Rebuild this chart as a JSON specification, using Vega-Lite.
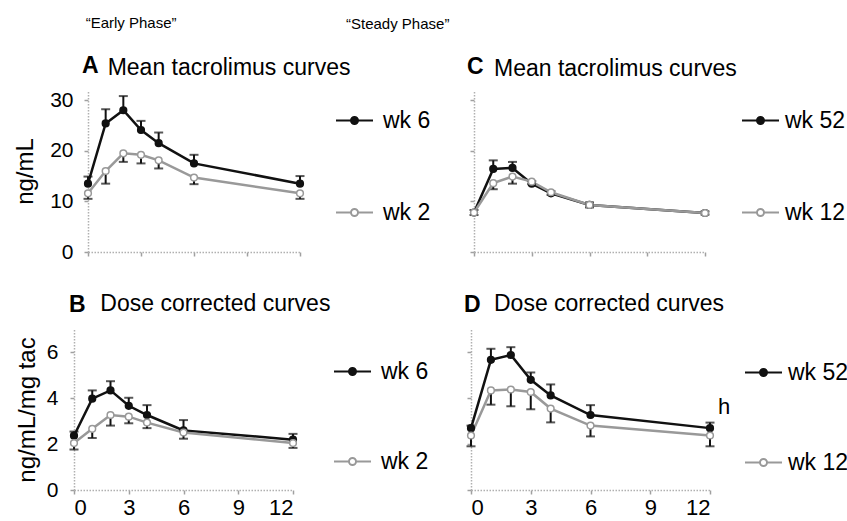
{
  "$schema": "https://vega.github.io/schema/vega-lite/v6.json",
  "padding": {"left": 13, "top": 16, "right": 0, "bottom": 0},
  "background": "white",
  "config": {
    "font": "Liberation Sans",
    "view": {"stroke": null},
    "axis": {
      "grid": false,
      "domainColor": "#b0b0b0",
      "domainDash": [1.5, 1.5],
      "domainWidth": 1.5,
      "tickColor": "#a0a0a0",
      "tickSize": 4,
      "tickWidth": 1.5,
      "labelFont": "Liberation Sans",
      "labelFontSize": 21,
      "labelColor": "#000",
      "titleFont": "Liberation Sans",
      "titleFontSize": 24,
      "titleFontWeight": "normal",
      "titleColor": "#000"
    },
    "legend": {
      "labelFont": "Liberation Sans",
      "labelFontSize": 23,
      "labelColor": "#000"
    },
    "title": {"font": "Liberation Sans", "fontSize": 23, "fontWeight": "normal", "color": "#000"}
  },
  "datasets": {
    "A": [
      {"t": 0, "wk": "wk 6", "mean": 13.5, "end": 14.9},
      {"t": 1, "wk": "wk 6", "mean": 25.4, "end": 28.2},
      {"t": 2, "wk": "wk 6", "mean": 28.0, "end": 30.8},
      {"t": 3, "wk": "wk 6", "mean": 24.1, "end": 25.9},
      {"t": 4, "wk": "wk 6", "mean": 21.5, "end": 23.6},
      {"t": 6, "wk": "wk 6", "mean": 17.5, "end": 19.2},
      {"t": 12, "wk": "wk 6", "mean": 13.5, "end": 15.0},
      {"t": 0, "wk": "wk 2", "mean": 11.6, "end": 10.5},
      {"t": 1, "wk": "wk 2", "mean": 16.0, "end": 13.5},
      {"t": 2, "wk": "wk 2", "mean": 19.5, "end": 17.8},
      {"t": 3, "wk": "wk 2", "mean": 19.2, "end": 17.5},
      {"t": 4, "wk": "wk 2", "mean": 18.1, "end": 16.5},
      {"t": 6, "wk": "wk 2", "mean": 14.7, "end": 13.4},
      {"t": 12, "wk": "wk 2", "mean": 11.6, "end": 10.5}
    ],
    "C": [
      {"t": 0, "wk": "wk 52", "mean": 7.8, "end": 8.3},
      {"t": 1, "wk": "wk 52", "mean": 16.4, "end": 18.1},
      {"t": 2, "wk": "wk 52", "mean": 16.6, "end": 17.8},
      {"t": 3, "wk": "wk 52", "mean": 13.5, "end": 14.0},
      {"t": 4, "wk": "wk 52", "mean": 11.6, "end": 12.0},
      {"t": 6, "wk": "wk 52", "mean": 9.3, "end": 9.8},
      {"t": 12, "wk": "wk 52", "mean": 7.7, "end": 8.0},
      {"t": 0, "wk": "wk 12", "mean": 7.8, "end": 7.3},
      {"t": 1, "wk": "wk 12", "mean": 13.6, "end": 12.4},
      {"t": 2, "wk": "wk 12", "mean": 14.9, "end": 13.5},
      {"t": 3, "wk": "wk 12", "mean": 13.9, "end": 13.4},
      {"t": 4, "wk": "wk 12", "mean": 11.8, "end": 11.3},
      {"t": 6, "wk": "wk 12", "mean": 9.3, "end": 8.8},
      {"t": 12, "wk": "wk 12", "mean": 7.7, "end": 7.4}
    ],
    "B": [
      {"t": 0, "wk": "wk 6", "mean": 2.36, "end": 2.54},
      {"t": 1, "wk": "wk 6", "mean": 3.97, "end": 4.33},
      {"t": 2, "wk": "wk 6", "mean": 4.33, "end": 4.73},
      {"t": 3, "wk": "wk 6", "mean": 3.66, "end": 4.01},
      {"t": 4, "wk": "wk 6", "mean": 3.26, "end": 3.69},
      {"t": 6, "wk": "wk 6", "mean": 2.59, "end": 3.04},
      {"t": 12, "wk": "wk 6", "mean": 2.19, "end": 2.44},
      {"t": 0, "wk": "wk 2", "mean": 2.04, "end": 1.76},
      {"t": 1, "wk": "wk 2", "mean": 2.66, "end": 2.26},
      {"t": 2, "wk": "wk 2", "mean": 3.26, "end": 2.8},
      {"t": 3, "wk": "wk 2", "mean": 3.19, "end": 2.9},
      {"t": 4, "wk": "wk 2", "mean": 2.93, "end": 2.69},
      {"t": 6, "wk": "wk 2", "mean": 2.5, "end": 2.23},
      {"t": 12, "wk": "wk 2", "mean": 2.04, "end": 1.83}
    ],
    "D": [
      {"t": 0, "wk": "wk 52", "mean": 2.69, "end": 2.8},
      {"t": 1, "wk": "wk 52", "mean": 5.66, "end": 6.14},
      {"t": 2, "wk": "wk 52", "mean": 5.87, "end": 6.21},
      {"t": 3, "wk": "wk 52", "mean": 4.79, "end": 5.11},
      {"t": 4, "wk": "wk 52", "mean": 4.11, "end": 4.59},
      {"t": 6, "wk": "wk 52", "mean": 3.26, "end": 3.69},
      {"t": 12, "wk": "wk 52", "mean": 2.69, "end": 2.93},
      {"t": 0, "wk": "wk 12", "mean": 2.37, "end": 1.9},
      {"t": 1, "wk": "wk 12", "mean": 4.33, "end": 3.71},
      {"t": 2, "wk": "wk 12", "mean": 4.37, "end": 3.64},
      {"t": 3, "wk": "wk 12", "mean": 4.26, "end": 3.51},
      {"t": 4, "wk": "wk 12", "mean": 3.54, "end": 2.94},
      {"t": 6, "wk": "wk 12", "mean": 2.8, "end": 2.33},
      {"t": 12, "wk": "wk 12", "mean": 2.37, "end": 1.9}
    ],
    "Dnote": [
      {"t": 12.4, "v": 3.6, "label": "h"}
    ]
  },
  "resolve": {"scale": {"stroke": "independent", "fill": "independent"}, "legend": {"stroke": "independent", "fill": "independent"}},
  "spacing": 31,
  "vconcat": [
    {
      "spacing": -85,
      "resolve": {"scale": {"stroke": "independent", "fill": "independent"}, "legend": {"stroke": "independent", "fill": "independent"}},
      "hconcat": [
        {
          "title": {"text": "“Early Phase”", "anchor": "start", "dx": 72, "fontSize": 15, "offset": 24},
          "resolve": {"scale": {"stroke": "independent", "fill": "independent"}, "legend": {"stroke": "independent", "fill": "independent"}},
          "vconcat": [
            {
              "title": {"text": "Mean tacrolimus curves", "anchor": "start", "dx": 94, "dy": 25, "offset": 0},
              "resolve": {"scale": {"stroke": "independent", "fill": "independent"}, "legend": {"stroke": "independent", "fill": "independent"}},
              "vconcat": [
                {
                  "width": 226, "height": 162,
                  "title": {"text": "A", "anchor": "start", "frame": "group", "dx": 8, "fontWeight": "bold", "offset": 11},
                  "data": {"name": "A"},
                  "encoding": {
                    "x": {"field": "t", "type": "quantitative", "scale": {"domain": [0, 12], "range": [14, 226]}, "axis": {"values": [0, 3, 6, 9, 12], "labels": false, "title": null}},
                    "y": {"field": "mean", "type": "quantitative", "title": "ng/mL", "scale": {"domain": [0, 32]}, "axis": {"values": [0, 10, 20, 30], "labelPadding": 11, "titlePadding": 12, "offset": -14}}
                  },
                  "layer": [
                    {"mark": {"type": "rule", "color": "#111", "strokeWidth": 2}, "encoding": {"y2": {"field": "end"}}},
                    {"mark": {"type": "tick", "color": "#111", "thickness": 2, "size": 9, "orient": "horizontal"}, "encoding": {"y": {"field": "end", "type": "quantitative", "title": "ng/mL"}}},
                    {"mark": {"type": "line", "strokeWidth": 2.5}, "encoding": {"stroke": {"field": "wk", "type": "nominal", "scale": {"domain": ["wk 6", "wk 2"], "range": ["#111111", "#999999"]}, "legend": {"orient": "none", "legendX": 261, "legendY": 11, "title": null, "symbolType": "M-1,0H-0.19M0.19,0H1M-0.19,0A0.19,0.19,0,1,0,0.19,0A0.19,0.19,0,1,0,-0.19,0", "symbolSize": 1369, "symbolStrokeWidth": 2, "labelOffset": 9, "rowPadding": 60, "padding": 0, "encode": {"symbols": {"update": {"fill": {"signal": "datum.value === 'wk 6' ? '#111111' : '#ffffff'"}}}}}}}},
                    {"mark": {"type": "point", "size": 45, "strokeWidth": 1.5, "opacity": 1}, "encoding": {"stroke": {"field": "wk", "type": "nominal"}, "fill": {"field": "wk", "type": "nominal", "scale": {"domain": ["wk 6", "wk 2"], "range": ["#111111", "#ffffff"]}, "legend": null}}}
                  ]
                }
              ]
            }
          ]
        },
        {
          "title": {"text": "“Steady Phase”", "anchor": "start", "dx": -121, "fontSize": 15, "offset": 24},
          "resolve": {"scale": {"stroke": "independent", "fill": "independent"}, "legend": {"stroke": "independent", "fill": "independent"}},
          "vconcat": [
            {
              "title": {"text": "Mean tacrolimus curves", "anchor": "start", "dx": 27, "dy": 25, "offset": 0},
              "resolve": {"scale": {"stroke": "independent", "fill": "independent"}, "legend": {"stroke": "independent", "fill": "independent"}},
              "vconcat": [
                {
                  "width": 231, "height": 162,
                  "title": {"text": "C", "anchor": "start", "frame": "group", "dx": -7, "fontWeight": "bold", "offset": 11},
                  "data": {"name": "C"},
                  "encoding": {
                    "x": {"field": "t", "type": "quantitative", "scale": {"domain": [0, 12]}, "axis": {"values": [0, 3, 6, 9, 12], "labels": false, "title": null}},
                    "y": {"field": "mean", "type": "quantitative", "title": null, "scale": {"domain": [0, 32]}, "axis": {"values": [0, 10, 20, 30], "labels": false, "title": null}}
                  },
                  "layer": [
                    {"mark": {"type": "rule", "color": "#111", "strokeWidth": 2}, "encoding": {"y2": {"field": "end"}}},
                    {"mark": {"type": "tick", "color": "#111", "thickness": 2, "size": 9, "orient": "horizontal"}, "encoding": {"y": {"field": "end", "type": "quantitative", "title": null}}},
                    {"mark": {"type": "line", "strokeWidth": 2.5}, "encoding": {"stroke": {"field": "wk", "type": "nominal", "scale": {"domain": ["wk 52", "wk 12"], "range": ["#111111", "#999999"]}, "legend": {"orient": "none", "legendX": 267, "legendY": 11, "title": null, "symbolType": "M-1,0H-0.19M0.19,0H1M-0.19,0A0.19,0.19,0,1,0,0.19,0A0.19,0.19,0,1,0,-0.19,0", "symbolSize": 1369, "symbolStrokeWidth": 2, "labelOffset": 5, "rowPadding": 60, "padding": 0, "encode": {"symbols": {"update": {"fill": {"signal": "datum.value === 'wk 52' ? '#111111' : '#ffffff'"}}}}}}}},
                    {"mark": {"type": "point", "size": 45, "strokeWidth": 1.5, "opacity": 1}, "encoding": {"stroke": {"field": "wk", "type": "nominal"}, "fill": {"field": "wk", "type": "nominal", "scale": {"domain": ["wk 52", "wk 12"], "range": ["#111111", "#ffffff"]}, "legend": null}}}
                  ]
                }
              ]
            }
          ]
        }
      ]
    },
    {
      "spacing": 35,
      "resolve": {"scale": {"stroke": "independent", "fill": "independent"}, "legend": {"stroke": "independent", "fill": "independent"}},
      "hconcat": [
        {
          "title": {"text": "Dose corrected curves", "anchor": "start", "dx": 85, "dy": 22, "offset": 0},
          "resolve": {"scale": {"stroke": "independent", "fill": "independent"}, "legend": {"stroke": "independent", "fill": "independent"}},
          "vconcat": [
            {
              "width": 219, "height": 161,
              "title": {"text": "B", "anchor": "start", "frame": "group", "dx": -5, "fontWeight": "bold", "offset": 12},
              "data": {"name": "B"},
              "encoding": {
                "x": {"field": "t", "type": "quantitative", "scale": {"domain": [0, 12]}, "axis": {"values": [0, 3, 6, 9, 12], "title": null, "labelPadding": 3, "labelFontSize": 22}},
                "y": {"field": "mean", "type": "quantitative", "title": "ng/mL/mg tac", "scale": {"domain": [0, 7]}, "axis": {"values": [0, 2, 4, 6], "labelPadding": 12, "titlePadding": 7}}
              },
              "layer": [
                {"mark": {"type": "rule", "color": "#111", "strokeWidth": 2}, "encoding": {"y2": {"field": "end"}}},
                {"mark": {"type": "tick", "color": "#111", "thickness": 2, "size": 9, "orient": "horizontal"}, "encoding": {"y": {"field": "end", "type": "quantitative", "title": "ng/mL/mg tac"}}},
                {"mark": {"type": "line", "strokeWidth": 2.5}, "encoding": {"stroke": {"field": "wk", "type": "nominal", "scale": {"domain": ["wk 6", "wk 2"], "range": ["#111111", "#999999"]}, "legend": {"orient": "none", "legendX": 259, "legendY": 23, "title": null, "symbolType": "M-1,0H-0.19M0.19,0H1M-0.19,0A0.19,0.19,0,1,0,0.19,0A0.19,0.19,0,1,0,-0.19,0", "symbolSize": 1369, "symbolStrokeWidth": 2, "labelOffset": 9, "rowPadding": 58, "padding": 0, "encode": {"symbols": {"update": {"fill": {"signal": "datum.value === 'wk 6' ? '#111111' : '#ffffff'"}}}}}}}},
                {"mark": {"type": "point", "size": 45, "strokeWidth": 1.5, "opacity": 1}, "encoding": {"stroke": {"field": "wk", "type": "nominal"}, "fill": {"field": "wk", "type": "nominal", "scale": {"domain": ["wk 6", "wk 2"], "range": ["#111111", "#ffffff"]}, "legend": null}}}
              ]
            }
          ]
        },
        {
          "title": {"text": "Dose corrected curves", "anchor": "start", "dx": 30, "dy": 22, "offset": 0},
          "resolve": {"scale": {"stroke": "independent", "fill": "independent"}, "legend": {"stroke": "independent", "fill": "independent"}},
          "vconcat": [
            {
              "width": 239, "height": 161,
              "title": {"text": "D", "anchor": "start", "frame": "group", "dx": -7, "fontWeight": "bold", "offset": 12},
              "encoding": {
                "x": {"field": "t", "type": "quantitative", "scale": {"domain": [0, 12]}, "axis": {"values": [0, 3, 6, 9, 12], "title": null, "labelPadding": 3, "labelFontSize": 22}},
                "y": {"field": "mean", "type": "quantitative", "title": null, "scale": {"domain": [0, 7]}, "axis": {"values": [0, 2, 4, 6], "labels": false, "title": null}}
              },
              "layer": [
                {"data": {"name": "D"}, "mark": {"type": "rule", "color": "#111", "strokeWidth": 2}, "encoding": {"y2": {"field": "end"}}},
                {"data": {"name": "D"}, "mark": {"type": "tick", "color": "#111", "thickness": 2, "size": 9, "orient": "horizontal"}, "encoding": {"y": {"field": "end", "type": "quantitative", "title": null}}},
                {"data": {"name": "D"}, "mark": {"type": "line", "strokeWidth": 2.5}, "encoding": {"stroke": {"field": "wk", "type": "nominal", "scale": {"domain": ["wk 52", "wk 12"], "range": ["#111111", "#999999"]}, "legend": {"orient": "none", "legendX": 273, "legendY": 24, "title": null, "symbolType": "M-1,0H-0.19M0.19,0H1M-0.19,0A0.19,0.19,0,1,0,0.19,0A0.19,0.19,0,1,0,-0.19,0", "symbolSize": 1369, "symbolStrokeWidth": 2, "labelOffset": 5, "rowPadding": 58, "padding": 0, "encode": {"symbols": {"update": {"fill": {"signal": "datum.value === 'wk 52' ? '#111111' : '#ffffff'"}}}}}}}},
                {"data": {"name": "D"}, "mark": {"type": "point", "size": 45, "strokeWidth": 1.5, "opacity": 1}, "encoding": {"stroke": {"field": "wk", "type": "nominal"}, "fill": {"field": "wk", "type": "nominal", "scale": {"domain": ["wk 52", "wk 12"], "range": ["#111111", "#ffffff"]}, "legend": null}}},
                {"data": {"name": "Dnote"}, "mark": {"type": "text", "fontSize": 22, "color": "#000", "align": "left", "baseline": "middle"}, "encoding": {"x": {"field": "t", "type": "quantitative"}, "y": {"field": "v", "type": "quantitative", "title": null}, "text": {"field": "label"}}}
              ]
            }
          ]
        }
      ]
    }
  ]
}
